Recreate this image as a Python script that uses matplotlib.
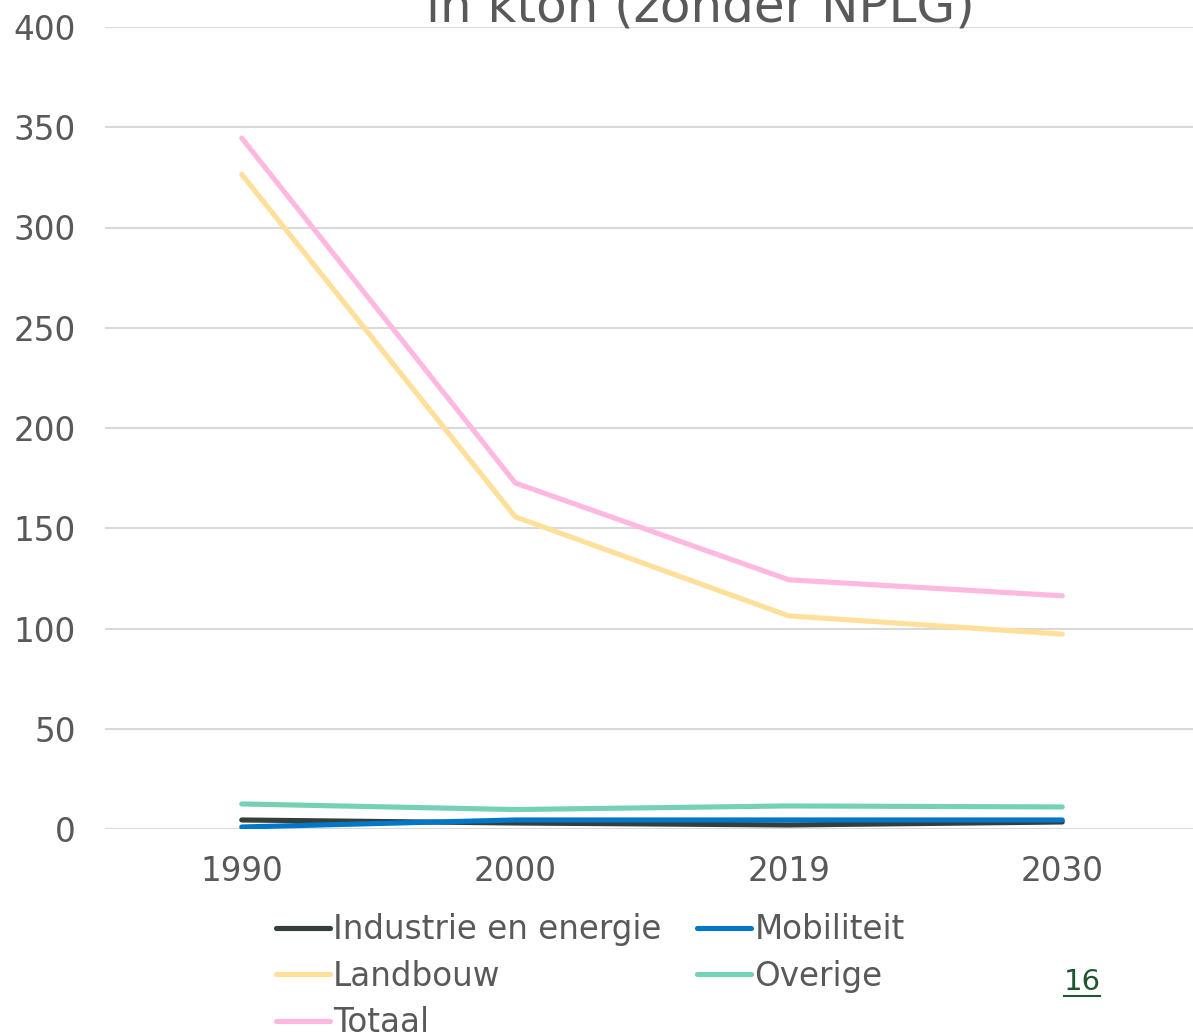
import matplotlib.pyplot as plt
from matplotlib.lines import Line2D

# categories and series (kton)
years = ['1990', '2000', '2019', '2030']
industrie = [4.5, 3.0, 2.0, 3.5]
mobiliteit = [1.0, 4.5, 4.5, 4.5]
landbouw = [326.5, 155.7, 106.3, 97.2]
overige = [12.5, 9.7, 11.5, 11.0]
totaal = [344.6, 172.6, 124.3, 116.3]

series = [
    ('Industrie en energie', industrie, '#333f38'),
    ('Mobiliteit', mobiliteit, '#0077c8'),
    ('Landbouw', landbouw, '#ffe09a'),
    ('Overige', overige, '#74d1b5'),
    ('Totaal', totaal, '#ffb8e0'),
]

W, H = 1193, 1036
fig = plt.figure(figsize=(W / 100, H / 100), dpi=100)
ax = fig.add_axes([105 / W, 207 / H, 1094 / W, 802 / H])

text_col = '#595959'
fs = 23.5
x = range(len(years))
lines = {}
for name, vals, col in series:
    ln, = ax.plot(x, vals, color=col, lw=3.7, solid_capstyle='round', label=name, zorder=3)
    lines[name] = ln

ax.set_xlim(-0.5, 3.5)
ax.set_ylim(0, 400)
ax.set_yticks(range(0, 401, 50))
ax.set_xticks(list(x))
ax.set_xticklabels(years)
ax.grid(axis='y', color='#d9d9d9', lw=1.5, zorder=0)
for s in ax.spines.values():
    s.set_visible(False)
ax.tick_params(axis='both', length=0, labelsize=fs, colors=text_col)
ax.tick_params(axis='y', pad=21)
ax.tick_params(axis='x', pad=19)

# title, partly cut off at the top like in the source slide
fig.text(700 / W, 1 - 21 / H, 'in kton (zonder NPLG)', ha='center', va='baseline',
         fontsize=36, color=text_col)

order = ['Industrie en energie', 'Landbouw', 'Totaal', 'Mobiliteit', 'Overige']
leg = fig.legend([lines[n] for n in order], order, loc='upper left',
                 bbox_to_anchor=(276 / W, 1 - 913 / H), ncol=2, frameon=False,
                 fontsize=fs, handlelength=1.65, handletextpad=0.1, columnspacing=1.1,
                 labelspacing=0.42, borderpad=0, borderaxespad=0)
for t in leg.get_texts():
    t.set_color(text_col)

# page number
fig.text(1082 / W, 1 - 982 / H, '16', ha='center', va='center', fontsize=21, color='#1e5631')
fig.add_artist(Line2D([1064 / W, 1100 / W], [1 - 996 / H, 1 - 996 / H], color='#1e5631', lw=1.5))

fig.savefig('out.png', dpi=100)
